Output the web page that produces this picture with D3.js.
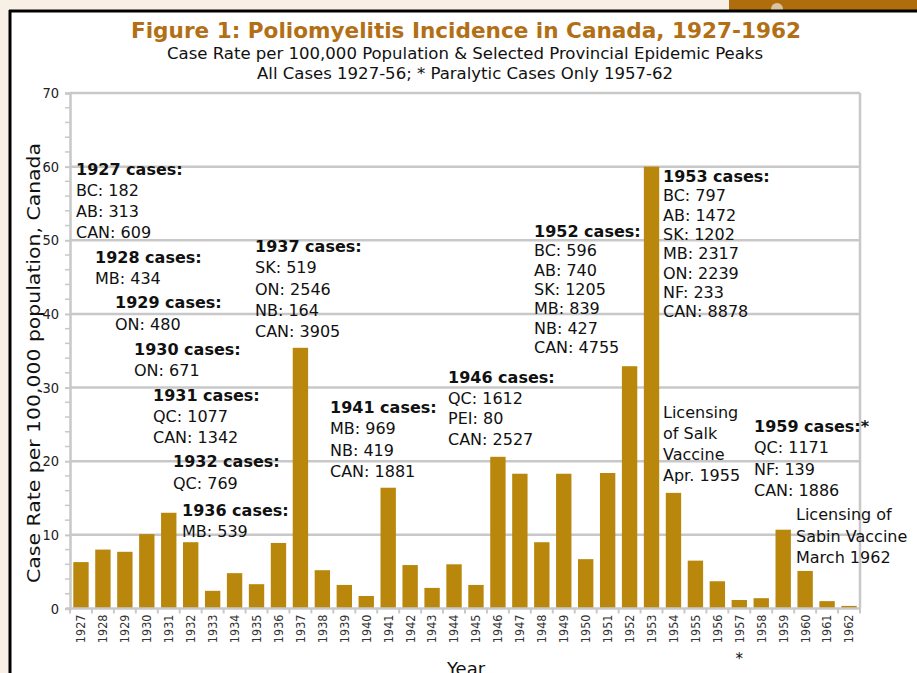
<!DOCTYPE html>
<html>
<head>
<meta charset="utf-8">
<script src="https://cdn.jsdelivr.net/npm/d3@7"></script>
<style>
  body { margin: 0; background: #f8f0e6; }
  svg { display: block; }
  .note { font-family: "DejaVu Sans", sans-serif; font-size: 16px; fill: #111; }
  .note .head { font-weight: bold; }
  .tick text { font-family: "DejaVu Sans Condensed", "DejaVu Sans", sans-serif; }
</style>
</head>
<body>
<div id="chart"></div>
<script>
// ── data ──
const years = d3.range(1927, 1963).map(String);
const rates = [
  6.3, 8.0, 7.7, 10.1, 13.0, 9.0, 2.4, 4.8, 3.3, 8.9,
  35.4, 5.2, 3.2, 1.7, 16.4, 5.9, 2.8, 6.0, 3.2, 20.6,
  18.3, 9.0, 18.3, 6.7, 18.4, 32.9, 60.0, 15.7, 6.5, 3.7,
  1.15, 1.4, 10.7, 5.1, 1.0, 0.35
];
const yTicks = [0, 10, 20, 30, 40, 50, 60, 70];

const notes = [
  { head: "1927 cases:", lines: ["BC: 182", "AB: 313", "CAN: 609"] },
  { head: "1928 cases:", lines: ["MB: 434"] },
  { head: "1929 cases:", lines: ["ON: 480"] },
  { head: "1930 cases:", lines: ["ON: 671"] },
  { head: "1931 cases:", lines: ["QC: 1077", "CAN: 1342"] },
  { head: "1932 cases:", lines: ["QC: 769"] },
  { head: "1936 cases:", lines: ["MB: 539"] },
  { head: "1937 cases:", lines: ["SK: 519", "ON: 2546", "NB: 164", "CAN: 3905"] },
  { head: "1941 cases:", lines: ["MB: 969", "NB: 419", "CAN: 1881"] },
  { head: "1946 cases:", lines: ["QC: 1612", "PEI: 80", "CAN: 2527"] },
  { head: "1952 cases:", lines: ["BC: 596", "AB: 740", "SK: 1205", "MB: 839", "NB: 427", "CAN: 4755"] },
  { head: "1953 cases:", lines: ["BC: 797", "AB: 1472", "SK: 1202", "MB: 2317", "ON: 2239", "NF: 233", "CAN: 8878"] },
  { head: null, lines: ["Licensing", "of Salk", "Vaccine", "Apr. 1955"] },
  { head: "1959 cases:*", lines: ["QC: 1171", "NF: 139", "CAN: 1886"] },
  { head: null, lines: ["Licensing of", "Sabin Vaccine", "March 1962"] }
];
// where each note sits: [x, first baseline, line height]
const notePos = [
  [76, 175, 21], [95, 263, 21], [115, 308, 22], [134, 355, 21],
  [153, 401, 21], [173, 467, 22], [182, 516, 21], [255, 252, 21.25],
  [330, 413, 21.3], [448, 383, 20.7], [534, 237, 19.3], [663, 182, 19.3],
  [663, 418, 21], [754, 432, 21.3], [796, 520, 21.5]
];

// ── layout ──
const W = 917, H = 673;
const margin = { left: 70, right: 57, top: 93, bottom: 65 };
const barColor = "#b8870b";
const gridColor = "#c8c8c8";

const svg = d3.select("#chart").append("svg").attr("width", W).attr("height", H);

// frame
svg.append("rect").attr("width", W).attr("height", H).attr("fill", "#f8f0e6");
svg.append("rect").attr("x", 729).attr("y", 0).attr("width", W - 729).attr("height", 12).attr("fill", "#b06d0e");
svg.append("circle").attr("cx", 777).attr("cy", 9).attr("r", 6).attr("fill", "#dcc3a0");
svg.append("rect").attr("x", 11).attr("y", 12).attr("width", W - 11).attr("height", H - 12).attr("fill", "#fff");
svg.append("line").attr("x1", 10).attr("x2", 10).attr("y1", 10).attr("y2", H).attr("stroke", "#000").attr("stroke-width", 3);
svg.append("line").attr("x1", 9).attr("x2", W).attr("y1", 11).attr("y2", 11).attr("stroke", "#000").attr("stroke-width", 3);

// titles
svg.append("text").attr("x", 466).attr("y", 38).attr("text-anchor", "middle")
  .attr("font-family", "DejaVu Sans Condensed, DejaVu Sans, sans-serif").attr("font-weight", "bold")
  .attr("font-size", 22).attr("fill", "#b26f16")
  .attr("textLength", 670).attr("lengthAdjust", "spacingAndGlyphs")
  .text("Figure 1: Poliomyelitis Incidence in Canada, 1927-1962");
svg.append("text").attr("x", 465).attr("y", 59).attr("text-anchor", "middle")
  .attr("font-family", "DejaVu Sans Condensed, DejaVu Sans, sans-serif")
  .attr("font-size", 16).attr("fill", "#111")
  .attr("textLength", 596).attr("lengthAdjust", "spacingAndGlyphs")
  .text("Case Rate per 100,000 Population & Selected Provincial Epidemic Peaks");
svg.append("text").attr("x", 465).attr("y", 79).attr("text-anchor", "middle")
  .attr("font-family", "DejaVu Sans Condensed, DejaVu Sans, sans-serif")
  .attr("font-size", 16).attr("fill", "#111")
  .attr("textLength", 416).attr("lengthAdjust", "spacingAndGlyphs")
  .text("All Cases 1927-56; * Paralytic Cases Only 1957-62");

// scales
const x = d3.scaleBand().domain(years)
  .range([margin.left, W - margin.right])
  .paddingInner(0.3).paddingOuter(0.15);
const y = d3.scaleLinear().domain([0, 70]).range([608.5, margin.top]);

// grid
svg.append("g").selectAll("line").data(yTicks.slice(1)).join("line")
  .attr("x1", margin.left).attr("x2", W - margin.right)
  .attr("y1", d => y(d)).attr("y2", d => y(d))
  .attr("stroke", gridColor).attr("stroke-width", 2.5);
svg.append("line").attr("x1", W - margin.right).attr("x2", W - margin.right)
  .attr("y1", y(70)).attr("y2", y(0)).attr("stroke", gridColor).attr("stroke-width", 2.5);

// bars
svg.append("g").selectAll("rect").data(rates).join("rect")
  .attr("x", (d, i) => x(years[i]))
  .attr("y", d => y(d))
  .attr("width", x.bandwidth())
  .attr("height", d => y(0) - y(d))
  .attr("fill", barColor);

// y axis
const yAxis = svg.append("g").attr("transform", `translate(${margin.left},0)`)
  .call(d3.axisLeft(y).tickValues(yTicks).tickSize(5).tickPadding(6));
yAxis.select(".domain").attr("stroke", gridColor).attr("stroke-width", 2.5);
yAxis.selectAll(".tick line").attr("stroke", gridColor).attr("stroke-width", 2);
yAxis.selectAll(".tick text").attr("font-size", 14.5).attr("fill", "#222");
yAxis.append("g").selectAll("line")
  .data(d3.range(0, 71, 2).filter(v => v % 10))
  .join("line")
  .attr("x1", -5).attr("x2", 0).attr("y1", d => y(d)).attr("y2", d => y(d))
  .attr("stroke", gridColor).attr("stroke-width", 1.5);

// x axis
const xAxis = svg.append("g").attr("transform", `translate(0,${y(0)})`)
  .call(d3.axisBottom(x).tickSize(0).tickPadding(6));
xAxis.select(".domain").remove();
xAxis.append("line").attr("x1", margin.left - 4).attr("x2", W - margin.right + 1)
  .attr("stroke", gridColor).attr("stroke-width", 2.5);
xAxis.selectAll(".tick text")
  .attr("font-size", 12.5).attr("fill", "#333")
  .attr("transform", "rotate(-90)")
  .attr("text-anchor", "end").attr("x", -6).attr("y", 0).attr("dy", "0.35em");
xAxis.append("g").selectAll("line")
  .data(d3.range(years.length + 1))
  .join("line")
  .attr("x1", i => margin.left + i * x.step()).attr("x2", i => margin.left + i * x.step())
  .attr("y1", 0).attr("y2", 5)
  .attr("stroke", gridColor).attr("stroke-width", 2);
xAxis.append("text").attr("x", x("1957") + x.bandwidth() / 2).attr("y", 55)
  .attr("text-anchor", "middle").attr("font-family", "DejaVu Sans, sans-serif")
  .attr("font-size", 15).attr("fill", "#111").text("*");

// axis titles
svg.append("text").attr("transform", "translate(40,363) rotate(-90)")
  .attr("text-anchor", "middle").attr("font-family", "DejaVu Sans, sans-serif")
  .attr("font-size", 18).attr("fill", "#111")
  .attr("textLength", 440).attr("lengthAdjust", "spacingAndGlyphs")
  .text("Case Rate per 100,000 population, Canada");
svg.append("text").attr("x", 447).attr("y", 675)
  .attr("font-family", "DejaVu Sans, sans-serif").attr("font-size", 18).attr("fill", "#111")
  .text("Year");

// notes
notes.forEach((n, i) => {
  const [nx, ny, lh] = notePos[i];
  const t = svg.append("text").attr("class", "note").attr("x", nx).attr("y", ny);
  const rows = n.head ? [n.head, ...n.lines] : n.lines;
  rows.forEach((r, j) => {
    t.append("tspan").attr("x", nx).attr("y", ny + j * lh)
      .attr("class", n.head && j === 0 ? "head" : null)
      .text(r);
  });
});
</script>
</body>
</html>
